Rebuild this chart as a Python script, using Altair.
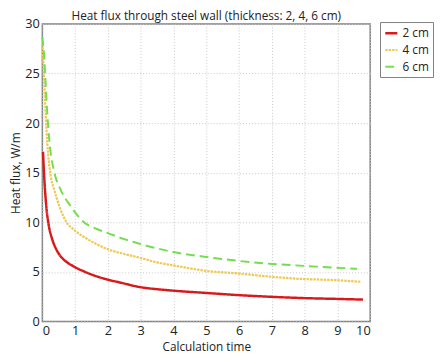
import altair as alt
import pandas as pd

series_names = ["2 cm", "4 cm", "6 cm"]

x_2cm = [0.02, 0.05, 0.12, 0.18, 0.3, 0.42, 0.55, 0.7, 0.9, 1.3, 1.9, 2.4, 3.0, 3.5, 4.0, 5.0, 6.0, 7.0, 8.0, 9.0, 9.78]
y_2cm = [17.1, 15.0, 11.6, 10.0, 8.3, 7.3, 6.6, 6.1, 5.65, 5.0, 4.3, 3.9, 3.45, 3.25, 3.1, 2.87, 2.65, 2.48, 2.35, 2.27, 2.2]

x_4cm = [0.0, 0.05, 0.1, 0.15, 0.24, 0.37, 0.52, 0.72, 0.98, 1.38, 1.98, 2.5, 3.0, 3.5, 4.0, 5.0, 6.0, 7.0, 8.0, 8.5, 9.0, 9.7]
y_4cm = [28.0, 25.0, 21.0, 18.0, 15.0, 13.2, 11.6, 10.1, 9.2, 8.3, 7.3, 6.8, 6.4, 5.95, 5.65, 5.1, 4.83, 4.5, 4.27, 4.22, 4.15, 4.0]

x_6cm = [0.0, 0.05, 0.1, 0.15, 0.22, 0.37, 0.57, 0.87, 1.27, 1.6, 2.0, 2.5, 3.0, 4.0, 5.0, 6.0, 7.0, 8.0, 9.0, 9.6]
y_6cm = [28.7, 27.0, 24.0, 21.0, 18.0, 15.0, 13.2, 11.6, 10.0, 9.4, 8.9, 8.3, 7.8, 7.0, 6.5, 6.1, 5.8, 5.6, 5.4, 5.3]

colors = ["#d91a1a", "#efc955", "#74de4c"]
dashes = [[1, 0], [2.5, 1], [9, 5]]
widths = [2.5, 2.0, 3.0]

rows = []
for name, xs, ys in zip(series_names, [x_2cm, x_4cm, x_6cm], [y_2cm, y_4cm, y_6cm]):
    for i, (xv, yv) in enumerate(zip(xs, ys)):
        rows.append({"series": name, "t": xv, "q": yv, "order": i})
df = pd.DataFrame(rows)

FONT = "Open Sans"

legend_spec = dict(title=None, orient="none", legendX=344, legendY=-2)

chart = alt.Chart(df).mark_line(strokeCap="butt", interpolate="monotone").encode(
    x=alt.X("t:Q", scale=alt.Scale(domain=[0, 10], nice=False),
            axis=alt.Axis(title="Calculation time", values=list(range(0, 11)))),
    y=alt.Y("q:Q", scale=alt.Scale(domain=[0, 30], nice=False),
            axis=alt.Axis(title="Heat flux, W/m", values=[0, 5, 10, 15, 20, 25, 30])),
    color=alt.Color("series:N", scale=alt.Scale(domain=series_names, range=colors),
                    legend=alt.Legend(**legend_spec)),
    strokeDash=alt.StrokeDash("series:N", scale=alt.Scale(domain=series_names, range=dashes),
                              legend=alt.Legend(**legend_spec)),
    strokeWidth=alt.StrokeWidth("series:N", scale=alt.Scale(domain=series_names, range=widths), legend=None),
    detail="series:N",
    order="order:Q",
).properties(
    width=334,
    height=303,
    title=alt.TitleParams("Heat flux through steel wall (thickness: 2, 4, 6 cm)",
                          fontSize=12, fontWeight="normal", font=FONT, color="#222",
                          anchor="middle", offset=-5),
    autosize=alt.AutoSizeParams(type="none"),
    padding={"left": 35, "top": 13, "right": 65, "bottom": 36},
).configure_view(
    stroke="#808080", strokeWidth=1.5
).configure_axis(
    grid=True, gridColor="#c8c8c8", gridDash=[1, 2], gridWidth=1,
    domain=False, ticks=False,
    labelFont=FONT, labelFontSize=13, labelColor="#222",
    titleFont=FONT, titleFontSize=12, titleFontWeight="normal", titleColor="#222",
).configure_axisY(
    labelPadding=3, titlePadding=2
).configure_axisX(
    labelPadding=3, titlePadding=5
).configure_legend(
    labelFont=FONT, labelFontSize=12, labelColor="#222",
    strokeColor="#808080", fillColor="white", padding=4, cornerRadius=0,
    symbolType="stroke", symbolSize=150, symbolStrokeWidth=1.2, rowPadding=3, labelOffset=4,
)

chart.save("out.html", embed_options={"renderer": "svg", "actions": False})
